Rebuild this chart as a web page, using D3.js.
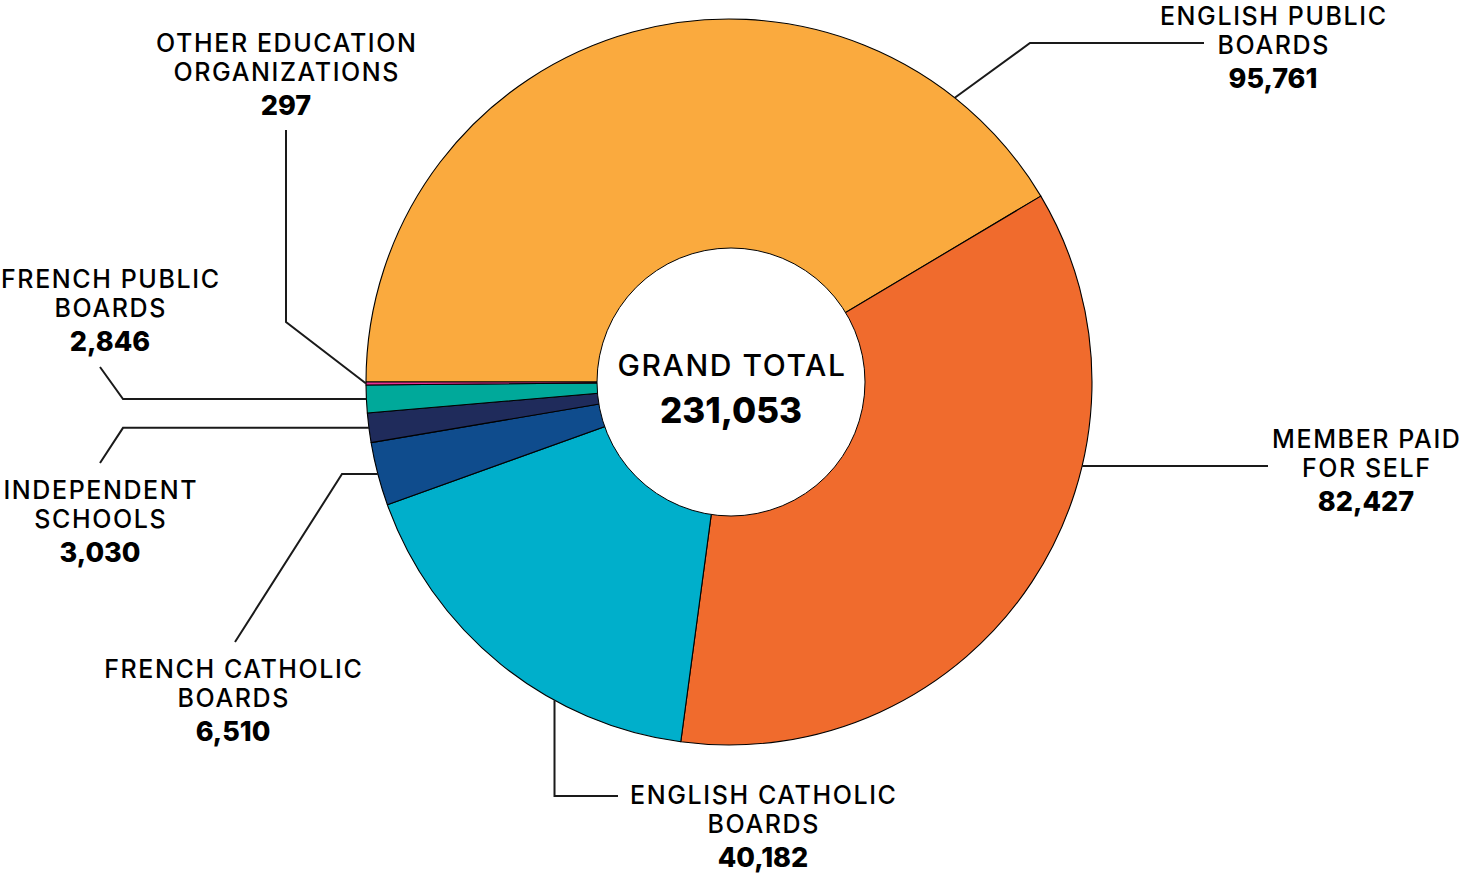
<!DOCTYPE html>
<html>
<head>
<meta charset="utf-8">
<script src="https://cdn.jsdelivr.net/npm/d3@7"></script>
<style>
  body { margin: 0; background: #fff; }
  svg text { font-family: Inter, "Noto Sans", sans-serif; fill: #000; }
</style>
</head>
<body>
<div id="chart"></div>
<script>
// data
var categories = ["English Public Boards", "Member Paid for Self", "English Catholic Boards",
    "French Catholic Boards", "Independent Schools", "French Public Boards", "Other Education Organizations"];
var labelLines = [["ENGLISH PUBLIC", "BOARDS"], ["MEMBER PAID", "FOR SELF"], ["ENGLISH CATHOLIC", "BOARDS"],
    ["FRENCH CATHOLIC", "BOARDS"], ["INDEPENDENT", "SCHOOLS"], ["FRENCH PUBLIC", "BOARDS"], ["OTHER EDUCATION", "ORGANIZATIONS"]];
var values = [95761, 82427, 40182, 6510, 3030, 2846, 297];
var colors = ["#FAAA3E", "#F06B2D", "#00AFCB", "#0F4C8D", "#1F2B5B", "#00A99A", "#E8318F"];

var width = 1468, height = 883;
var cx = 729, cy = 382;
var outerR = 363, innerR = 134;

// where each leader leaves its slice (fraction of the slice) and how it runs
var layout = [
    {at: 0.861, pts: function (s) { return [[1030, 43], [1204, 43]]; }, lx: 1273, ly: 25},
    {at: 0.344, pts: function (s) { return [[1268, s[1]]]; }, lx: 1366, ly: 448},
    {at: 0.337, pts: function (s) { return [[s[0], 796], [618, 796]]; }, lx: 763, ly: 804},
    {at: 0.5, pts: function (s) { return [[342, s[1]], [235, 642]]; }, lx: 233, ly: 678},
    {at: 0.5, pts: function (s) { return [[123, s[1]], [100, 463]]; }, lx: 100, ly: 499},
    {at: 0.5, pts: function (s) { return [[123, s[1]], [100, 367]]; }, lx: 110, ly: 288},
    {at: 0.5, pts: function (s) { return [[286, 322], [286, 130]]; }, lx: 286, ly: 52}
];

var svg = d3.select("#chart").append("svg")
    .attr("width", width)
    .attr("height", height);

var pie = d3.pie()
    .sort(null)
    .startAngle(-Math.PI / 2)
    .endAngle(Math.PI * 1.5)
    .value(function (d) { return d; });

var arcs = pie(values);

var arc = d3.arc().innerRadius(0).outerRadius(outerR);

var g = svg.append("g").attr("transform", "translate(" + cx + "," + cy + ")");

g.selectAll("path.slice")
    .data(arcs)
    .enter().append("path")
    .attr("class", "slice")
    .attr("d", arc)
    .attr("fill", function (d, i) { return colors[i]; })
    .attr("stroke", "#000")
    .attr("stroke-width", 1.1)
    .attr("stroke-linejoin", "round");

// white hole in the middle
g.append("circle")
    .attr("cx", 2)
    .attr("cy", 0)
    .attr("r", innerR)
    .attr("fill", "#fff")
    .attr("stroke", "#000")
    .attr("stroke-width", 1);

g.append("text")
    .attr("x", 3).attr("y", -6)
    .attr("text-anchor", "middle")
    .attr("font-size", 30)
    .attr("font-weight", 500)
    .attr("letter-spacing", 1.6)
    .text("GRAND TOTAL");

g.append("text")
    .attr("x", 2).attr("y", 41)
    .attr("text-anchor", "middle")
    .attr("font-size", 35)
    .attr("font-weight", 800)
    .text(d3.format(",")(d3.sum(values)));

// leader lines
var line = d3.line();
arcs.forEach(function (d, i) {
    var L = layout[i];
    var a = d.startAngle + (d.endAngle - d.startAngle) * L.at;
    var s = [cx + outerR * Math.sin(a), cy - outerR * Math.cos(a)];
    svg.append("path")
        .attr("d", line([s].concat(L.pts(s))))
        .attr("fill", "none")
        .attr("stroke", "#1a1a1a")
        .attr("stroke-width", 2);

    var t = svg.append("text")
        .attr("text-anchor", "middle")
        .attr("x", L.lx).attr("y", L.ly);
    labelLines[i].forEach(function (ln, k) {
        t.append("tspan")
            .attr("x", L.lx + 0.8)
            .attr("y", L.ly + k * 29)
            .attr("font-size", 25)
            .attr("font-weight", 500)
            .attr("letter-spacing", 1.6)
            .text(ln);
    });
    t.append("tspan")
        .attr("x", L.lx)
        .attr("y", L.ly + 63)
        .attr("font-size", 27)
        .attr("font-weight", 800)
        .text(d3.format(",")(d.data));
});
</script>
</body>
</html>
